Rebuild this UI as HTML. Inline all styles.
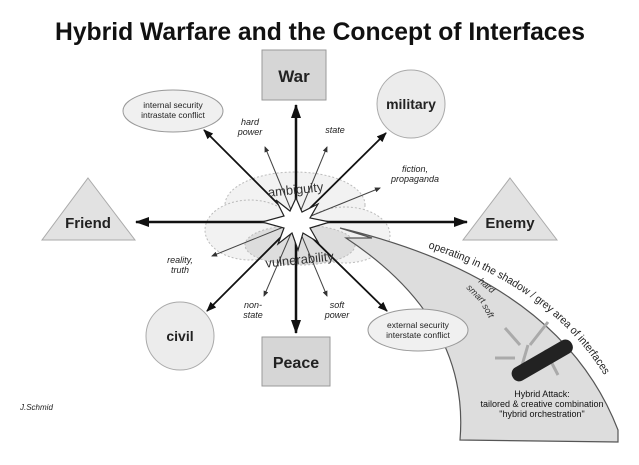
<!DOCTYPE html>
<html><head><meta charset="utf-8"><style>
html,body{margin:0;padding:0;background:#fff;}
svg{display:block;font-family:"Liberation Sans",sans-serif;}
</style></head><body>
<svg width="639" height="465" viewBox="0 0 639 465" xmlns="http://www.w3.org/2000/svg">
<defs>
<marker id="a" markerWidth="10" markerHeight="8" refX="9" refY="4" orient="auto" markerUnits="userSpaceOnUse"><path d="M0,0 L10,4 L0,8 Z" fill="#111"/></marker>
<marker id="b" markerWidth="14" markerHeight="10" refX="13" refY="5" orient="auto" markerUnits="userSpaceOnUse"><path d="M0,0 L14,5 L0,10 Z" fill="#111"/></marker>
<marker id="c" markerWidth="6" markerHeight="5" refX="5" refY="2.5" orient="auto" markerUnits="userSpaceOnUse"><path d="M0,0 L6,2.5 L0,5 Z" fill="#333"/></marker>
</defs>
<text x="320" y="40" text-anchor="middle" font-size="25" font-weight="bold" textLength="530" lengthAdjust="spacingAndGlyphs" fill="#111">Hybrid Warfare and the Concept of Interfaces</text>

<!-- cloud -->
<g fill="#f2f2f2" stroke="#bbb" stroke-dasharray="2,2">
<ellipse cx="295" cy="205" rx="70" ry="33"/>
<ellipse cx="250" cy="230" rx="45" ry="30"/>
<ellipse cx="345" cy="235" rx="45" ry="28"/>
<ellipse cx="300" cy="245" rx="55" ry="20" fill="#ddd"/>
</g>

<!-- grey band -->
<path d="M340,228 Q560,280 618,430 L618,442 L460,440 Q470,320 346,238 L372,238 Z" fill="#ddd" stroke="#555" stroke-width="1.2"/>

<!-- shapes -->
<rect x="262" y="50" width="64" height="50" fill="#d6d6d6" stroke="#999"/>
<text x="294" y="82" text-anchor="middle" font-size="17" font-weight="bold" fill="#222">War</text>
<rect x="262" y="337" width="68" height="49" fill="#d6d6d6" stroke="#999"/>
<text x="296" y="368" text-anchor="middle" font-size="16" font-weight="bold" fill="#222">Peace</text>
<path d="M88,178 L135,240 L42,240 Z" fill="#e2e2e2" stroke="#aaa"/>
<text x="88" y="228" text-anchor="middle" font-size="15" font-weight="bold" fill="#222">Friend</text>
<path d="M510,178 L557,240 L463,240 Z" fill="#e2e2e2" stroke="#aaa"/>
<text x="510" y="228" text-anchor="middle" font-size="15" font-weight="bold" fill="#222">Enemy</text>
<circle cx="411" cy="104" r="34" fill="#ececec" stroke="#aaa"/>
<text x="411" y="109" text-anchor="middle" font-size="14" font-weight="bold" fill="#222">military</text>
<circle cx="180" cy="336" r="34" fill="#ececec" stroke="#aaa"/>
<text x="180" y="341" text-anchor="middle" font-size="14" font-weight="bold" fill="#222">civil</text>
<ellipse cx="173" cy="111" rx="50" ry="21" fill="#f0f0f0" stroke="#999"/>
<text x="173" y="108" text-anchor="middle" font-size="8.5" fill="#222">internal security</text>
<text x="173" y="118" text-anchor="middle" font-size="8.5" fill="#222">intrastate conflict</text>
<ellipse cx="418" cy="330" rx="50" ry="21" fill="#f0f0f0" stroke="#999"/>
<text x="418" y="328" text-anchor="middle" font-size="8.5" fill="#222">external security</text>
<text x="418" y="338" text-anchor="middle" font-size="8.5" fill="#222">interstate conflict</text>

<!-- main arrows -->
<g stroke="#111" stroke-width="2.5">
<line x1="296" y1="222" x2="296" y2="105" marker-end="url(#b)"/>
<line x1="296" y1="222" x2="296" y2="333" marker-end="url(#b)"/>
<line x1="296" y1="222" x2="136" y2="222" marker-end="url(#b)"/>
<line x1="296" y1="222" x2="467" y2="222" marker-end="url(#b)"/>
</g>
<g stroke="#111" stroke-width="1.8">
<line x1="296" y1="222" x2="386" y2="133" marker-end="url(#a)"/>
<line x1="296" y1="222" x2="204" y2="130" marker-end="url(#a)"/>
<line x1="296" y1="222" x2="207" y2="311" marker-end="url(#a)"/>
<line x1="296" y1="222" x2="387" y2="311" marker-end="url(#a)"/>
</g>
<g stroke="#444" stroke-width="1">
<line x1="296" y1="222" x2="265" y2="147" marker-end="url(#c)"/>
<line x1="296" y1="222" x2="327" y2="147" marker-end="url(#c)"/>
<line x1="296" y1="222" x2="380" y2="188" marker-end="url(#c)"/>
<line x1="296" y1="222" x2="212" y2="256" marker-end="url(#c)"/>
<line x1="296" y1="222" x2="264" y2="296" marker-end="url(#c)"/>
<line x1="296" y1="222" x2="327" y2="296" marker-end="url(#c)"/>
</g>
<!-- star -->
<path d="M296,198 L302,212 L318,204 L310,218 L330,222 L310,228 L318,242 L303,233 L298,250 L292,233 L278,244 L284,228 L262,222 L284,216 L276,200 L290,211 Z" fill="#fff" stroke="#222" stroke-width="1.2"/>
<text x="296" y="194" text-anchor="middle" font-size="13" fill="#333" transform="rotate(-6 296 194)">ambiguity</text>
<text x="300" y="264" text-anchor="middle" font-size="13" fill="#333" transform="rotate(-6 300 264)">vulnerability</text>

<!-- italic labels -->
<g font-size="9" font-style="italic" fill="#222" text-anchor="middle">
<text x="250" y="125">hard</text><text x="250" y="135">power</text>
<text x="335" y="133">state</text>
<text x="415" y="172">fiction,</text><text x="415" y="182">propaganda</text>
<text x="180" y="263">reality,</text><text x="180" y="273">truth</text>
<text x="253" y="308">non-</text><text x="253" y="318">state</text>
<text x="337" y="308">soft</text><text x="337" y="318">power</text>
</g>
<text x="20" y="410" font-size="8" font-style="italic" fill="#222">J.Schmid</text>

<!-- band text -->
<path id="bp" d="M428,248 Q560,290 614,392" fill="none"/>
<text font-size="11" fill="#222"><textPath href="#bp" textLength="222" lengthAdjust="spacingAndGlyphs">operating in the shadow / grey area of interfaces</textPath></text>
<text x="478" y="282" font-size="9" font-style="italic" fill="#333" transform="rotate(40 478 282)">hard</text>
<text x="466" y="288" font-size="9" font-style="italic" fill="#333" transform="rotate(45 466 288)">smart</text>
<text x="482" y="306" font-size="9" font-style="italic" fill="#333" transform="rotate(60 482 306)">soft</text>
<!-- knife -->
<g stroke="#aaa" stroke-width="3" fill="none">
<line x1="530" y1="345" x2="548" y2="322"/><line x1="520" y1="345" x2="505" y2="328"/>
<line x1="545" y1="350" x2="558" y2="375"/><line x1="515" y1="358" x2="495" y2="358"/>
<line x1="528" y1="345" x2="520" y2="372"/>
</g>
<rect x="508" y="353" width="68" height="15" rx="7" fill="#222" transform="rotate(-30 542 360)"/>
<text x="542" y="397" text-anchor="middle" font-size="9" fill="#111">Hybrid Attack:</text>
<text x="542" y="407" text-anchor="middle" font-size="9" fill="#111">tailored &amp; creative combination</text>
<text x="542" y="417" text-anchor="middle" font-size="9" fill="#111">"hybrid orchestration"</text>
</svg>
</body></html>
